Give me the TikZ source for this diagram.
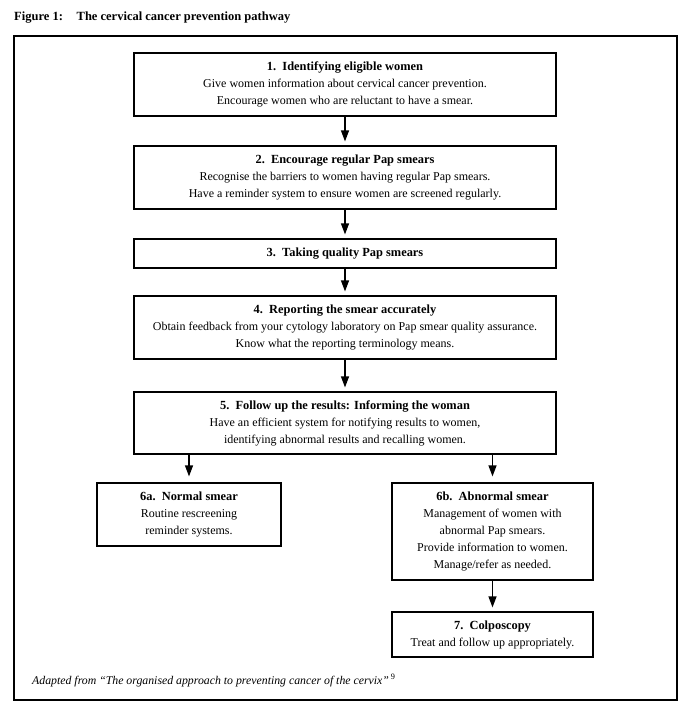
\documentclass[tikz,border=0pt]{standalone}
\usepackage{fontspec}
\setmainfont{Liberation Serif}
\usetikzlibrary{arrows.meta}
\newcommand{\hd}[1]{{\fontsize{12.4}{17}\selectfont\bfseries #1}}
\begin{document}
\begin{tikzpicture}[x=1pt,y=-1pt,
  box/.style={draw,line width=1.2pt,rectangle,align=center,inner sep=0pt,font=\fontsize{12}{17}\selectfont},
  arr/.style={line width=1.2pt,-{Triangle[width=8pt,length=11pt]},shorten >=4pt}]
\useasboundingbox (0,0) rectangle (689,709);
\node[anchor=base west,font=\fontsize{12.5}{14}\selectfont\bfseries,inner sep=0pt] (title) at (14,21) {Figure 1:\hspace{1.1em}The cervical cancer prevention pathway};
\node[draw,line width=1.2pt,minimum width=663pt,minimum height=664pt,inner sep=0pt] (frame) at (345.5,368) {};
\node[box,minimum width=422pt,minimum height=63pt] (b1) at (345,84.5) {\hd{1.\ \ Identifying eligible women}\\Give women information about cervical cancer prevention.\\Encourage women who are reluctant to have a smear.};
\node[box,minimum width=422pt,minimum height=63pt] (b2) at (345,177.5) {\hd{2.\ \ Encourage regular Pap smears}\\Recognise the barriers to women having regular Pap smears.\\Have a reminder system to ensure women are screened regularly.};
\node[box,minimum width=422pt,minimum height=29pt] (b3) at (345,253.5) {\hd{3.\ \ Taking quality Pap smears}};
\node[box,minimum width=422pt,minimum height=63pt] (b4) at (345,327.5) {\hd{4.\ \ Reporting the smear accurately}\\Obtain feedback from your cytology laboratory on Pap smear quality assurance.\\Know what the reporting terminology means.};
\node[box,minimum width=422pt,minimum height=62pt] (b5) at (345,423) {\hd{5.\ \ Follow up the results: Informing the woman}\\Have an efficient system for notifying results to women,\\identifying abnormal results and recalling women.};
\node[box,minimum width=184pt,minimum height=63pt] (b6a) at (189,514.5) {\hd{6a.\ \ Normal smear}\\Routine rescreening\\reminder systems.};
\node[box,minimum width=201pt,minimum height=97pt] (b6b) at (492.5,531.5) {\hd{6b.\ \ Abnormal smear}\\Management of women with\\abnormal Pap smears.\\Provide information to women.\\Manage/refer as needed.};
\node[box,minimum width=201pt,minimum height=45pt] (b7) at (492.5,634.5) {\hd{7.\ \ Colposcopy}\\Treat and follow up appropriately.};
\node[anchor=base west,inner sep=0pt,font=\fontsize{11.8}{12}\selectfont\itshape] (cap) at (32,684) {Adapted from “The organised approach to preventing cancer of the cervix”\,\textsuperscript{\upshape 9}};
\draw[arr] (b1) -- (b2);
\draw[arr] (b2) -- (b3);
\draw[arr] (b3) -- (b4);
\draw[arr] (b4) -- (b5);
\draw[arr,shorten >=6pt] (b5.south -| b6a.north) -- (b6a.north);
\draw[arr,shorten >=6pt] (b5.south -| b6b.north) -- (b6b.north);
\draw[arr] (b6b) -- (b7);
\end{tikzpicture}
\end{document}
